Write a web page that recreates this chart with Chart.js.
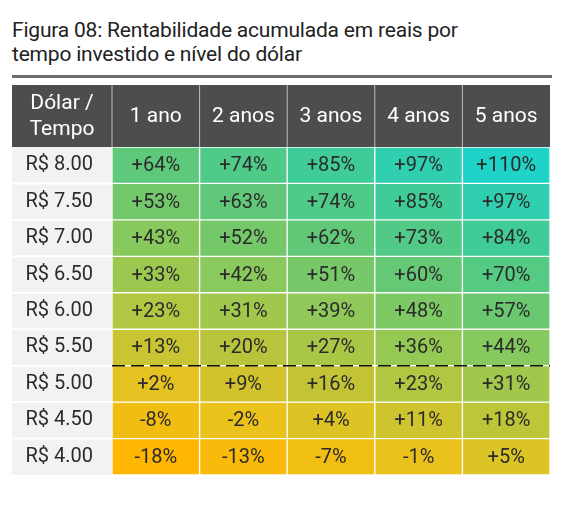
<!doctype html>
<html>
  <head>
    <meta charset="UTF-8">
    <script src="https://cdn.jsdelivr.net/npm/chart.js"></script>
    <style>
      body { margin: 0; background: #fff; font-family: Roboto, sans-serif; }
      #title { position: absolute; left: 12px; top: 18px; font-size: 21px; line-height: 24px; color: #222; letter-spacing: -0.2px; }
      #rule { position: absolute; left: 12px; top: 75px; width: 540px; height: 3px; background: #6e6e6e; }
      #c { position: absolute; left: 12px; top: 85px; }
    </style>
  </head>
  <body>
    <div id="title">Figura 08: Rentabilidade acumulada em reais por<br>tempo investido e nível do dólar</div>
    <div id="rule"></div>
    <canvas id="c" width="538" height="413"></canvas>
    <script>
      const years = ['1 ano', '2 anos', '3 anos', '4 anos', '5 anos'];
      const prices = ['R$ 8.00', 'R$ 7.50', 'R$ 7.00', 'R$ 6.50', 'R$ 6.00', 'R$ 5.50', 'R$ 5.00', 'R$ 4.50', 'R$ 4.00'];
      const returns = [
        [64, 74, 85, 97, 110],
        [53, 63, 74, 85, 97],
        [43, 52, 62, 73, 84],
        [33, 42, 51, 60, 70],
        [23, 31, 39, 48, 57],
        [13, 20, 27, 36, 44],
        [2, 9, 16, 23, 31],
        [-8, -2, 4, 11, 18],
        [-18, -13, -7, -1, 5],
      ];

      const stops = [
        [-18, [255, 183, 3]], [0, [232, 194, 30]], [20, [184, 197, 60]],
        [40, [142, 201, 90]], [60, [100, 200, 116]], [85, [63, 204, 152]], [110, [31, 211, 200]]
      ];
      function colorFor(v) {
        for (let i = 1; i < stops.length; i++) {
          if (v <= stops[i][0]) {
            const [a, ca] = stops[i - 1], [b, cb] = stops[i];
            const t = (v - a) / (b - a);
            const c = ca.map((x, k) => Math.round(x + (cb[k] - x) * t));
            return `rgb(${c.join(',')})`;
          }
        }
        return 'rgb(31,211,200)';
      }

      const n = prices.length;
      const datasets = prices.map((p, r) => ({
        label: p,
        data: returns[r].map(() => [n - 1 - r, n - r]),
        backgroundColor: returns[r].map(colorFor),
        borderColor: 'rgba(255,255,255,0.8)',
        borderWidth: 1,
        borderSkipped: false,
        barPercentage: 1,
        categoryPercentage: 1,
        grouped: false,
      }));

      const tablePlugin = {
        id: 'table',
        beforeDraw(chart) {
          const { ctx, chartArea: a } = chart;
          ctx.save();
          ctx.fillStyle = '#4d4d4d';
          ctx.fillRect(0, 0, a.right, a.top);
          ctx.fillStyle = '#f2f2f2';
          ctx.fillRect(0, a.top, a.left, a.bottom - a.top);
          ctx.strokeStyle = '#ffffff';
          ctx.lineWidth = 2;
          const h = (a.bottom - a.top) / n;
          for (let i = 1; i < n; i++) {
            ctx.beginPath(); ctx.moveTo(0, a.top + h * i); ctx.lineTo(a.left, a.top + h * i); ctx.stroke();
          }
          ctx.strokeStyle = '#bdbdbd';
          ctx.lineWidth = 1;
          const w = (a.right - a.left) / years.length;
          ctx.fillStyle = '#fff';
          ctx.font = '21px Roboto';
          ctx.textAlign = 'center';
          ctx.textBaseline = 'middle';
          for (let i = 0; i < years.length; i++) {
            const x = a.left + w * i;
            ctx.beginPath(); ctx.moveTo(x, 0); ctx.lineTo(x, a.top); ctx.stroke();
            ctx.fillText(years[i], x + w / 2, a.top / 2 + 1);
          }
          ctx.fillText('Dólar /', a.left / 2, a.top / 2 - 12);
          ctx.fillText('Tempo', a.left / 2, a.top / 2 + 14);
          ctx.restore();
        },
        afterDatasetsDraw(chart) {
          const { ctx, chartArea: a } = chart;
          ctx.save();
          ctx.fillStyle = '#2b2b2b';
          ctx.font = '20px Roboto';
          ctx.textAlign = 'center';
          ctx.textBaseline = 'middle';
          chart.data.datasets.forEach((ds, r) => {
            chart.getDatasetMeta(r).data.forEach((bar, c) => {
              const v = returns[r][c];
              ctx.fillText((v > 0 ? '+' : '') + v + '%', bar.x, (bar.y + bar.base) / 2 + 1);
            });
          });
          const y = chart.scales.y.getPixelForValue(3);
          ctx.strokeStyle = '#111';
          ctx.lineWidth = 1.5;
          ctx.setLineDash([13, 6]);
          ctx.beginPath(); ctx.moveTo(a.left, y); ctx.lineTo(a.right, y); ctx.stroke();
          ctx.restore();
        }
      };

      new Chart(document.getElementById('c'), {
        type: 'bar',
        data: { labels: years, datasets },
        plugins: [tablePlugin],
        options: {
          responsive: false,
          animation: false,
          layout: { padding: 0 },
          plugins: { legend: { display: false }, tooltip: { enabled: false } },
          scales: {
            x: {
              position: 'top',
              grid: { display: false },
              border: { display: false },
              ticks: { color: 'rgba(0,0,0,0)', padding: 0 },
              afterFit(s) { s.height = 62; }
            },
            y: {
              min: 0, max: n,
              grid: { display: false },
              border: { display: false },
              afterBuildTicks(s) { s.ticks = prices.map((p, i) => ({ value: n - 0.5 - i })); },
              ticks: {
                color: '#2b2b2b', font: { size: 20, family: 'Roboto' }, padding: 11,
                callback: (v) => prices[Math.round(n - 0.5 - v)]
              },
              afterFit(s) { s.width = 100; }
            }
          }
        }
      });
    </script>
  </body>
</html>
